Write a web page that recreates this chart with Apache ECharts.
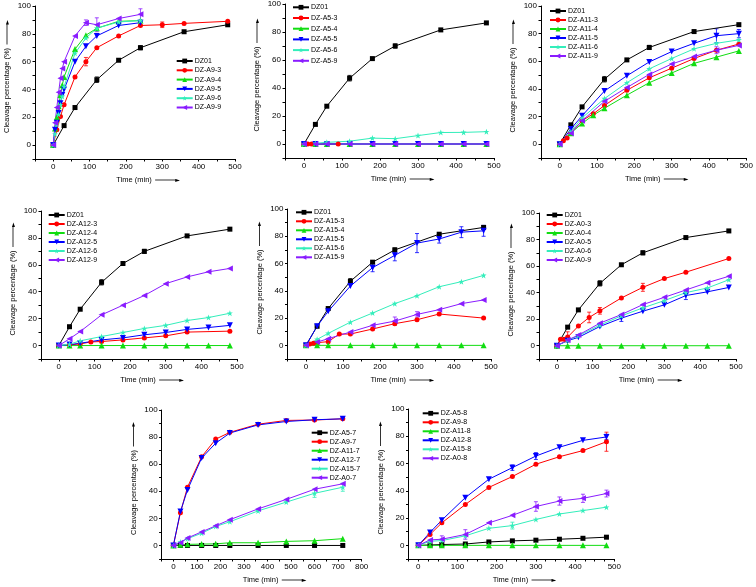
<!DOCTYPE html>
<html><head><meta charset="utf-8">
<script src="https://cdn.jsdelivr.net/npm/echarts@6/dist/echarts.min.js"></script>
<style>html,body{margin:0;padding:0;background:#fff}#c{width:756px;height:587px}</style>
</head><body><div id="c"></div>
<script>
// ---------- DATA ----------
const tDZ = [0,30,60,120,180,240,360,480];
const vDZ01 = [0,14,27,47,61,70,81.5,86.5];
const tStd = [0,30,60,120,180,240,300,360,420,480];

// Panel 1 (A9)
const tA9_3 = [0,10,20,30,60,90,120,180,240,300,360,480];
const vA9_3 = [0,11,20.5,29,49,60,70,78.5,86,86.5,87.5,89];
const tA9 = [0,5,10,15,20,25,30,60,90,120,180,240];
const vA9_4 = [0,12,20,28,36,43,49,69,79,84,89,89.5];
const vA9_5 = [0,11,16,23,30,36,40,60,71,78.5,86,88];
const vA9_6 = [0,8,15,22,29,35,42,66,77,84,88.5,89.5];
const vA9_9 = [0,16,27,38,48,55,60,78.5,88,86.5,91,94];

// Panel 2 (A5)
const tA5_3 = [0,10,20,90];
const vA5_3 = [0,0,0,0];
const vA5_4 = [0,0,0,0,0,0,0,0,0,0];
const vA5_5 = [0,0,0,0,0,0,0,0,0,0];
const vA5_6 = [0,0.5,1.2,2,4.2,3.8,6,8.2,8.3,8.8];
const vA5_9 = [0,0,0,0,0,0,0,0,0,0];

// Panel 3 (A11)
const tA11_3 = [0,10,20,30,60,90,120,180,240,300,360,420,480];
const vA11_3 = [0,2.5,4.5,8,17,22,28,39,48,55,62,68,72.5];
const tA11_4 = [0,30,60,90,120,180,240,300,360,420,480];
const vA11_4 = [0,8,15,21,26,35.5,44.5,51.5,58.5,63,67.5];
const vA11_5 = [0,11,20.5,38.5,49.5,59.5,67,73,78.5,80];
const vA11_6 = [0,9,19,33,44.5,54.5,62,69,73,75.5];
const vA11_9 = [0,8,17,31,41,50.5,58,63.5,68,71.5];

// Panel 4 (A12)
const tA12_3 = [0,30,60,90,120,180,240,300,360,480];
const vA12_3 = [0,0.5,1.2,2.7,3,4.2,5.7,7.2,10,10.7];
const vA12_4 = [0,0,0,0,0,0,0,0,0,0];
const vA12_5 = [0,0.7,1.7,4.2,5.7,8,9.7,12,13.4,15];
const vA12_6 = [0,1,3.5,6.7,9.7,12.7,15,18.6,20.8,24];
const vA12_9 = [0,5,10.4,22.8,30,37.2,46,51,54.8,57.3];

// Panel 5 (A15)
const tA15_3 = [0,10,20,30,60,90,120,180,240,300,360,480];
const vA15_3 = [0,1,1.5,2,2.7,8.3,8.3,12,15.9,18.8,23,20];
const vA15_4 = [0,0,0,0,0,0,0,0,0,0];
const vA15_5 = [0,14,25,43.5,57,66,75,78,83,84];
const vA15_6 = [0,4.4,8.8,17,23.7,30.6,36.4,43,46.7,51.3];
const vA15_9 = [0,2.4,4.9,9.8,14.7,17.8,22.7,26.2,30.6,33.3];

// Panel 6 (A0)
const tA0_3 = [0,10,20,30,60,90,120,180,240,300,360,480];
const vA0_3 = [0,4.8,4.8,6.5,14.8,21.3,26.3,36,44,50.6,55.4,65.7];
const vA0_4 = [0,0,0,0,0,0,0,0,0,0];
const vA0_5 = [0,3.8,6.3,14.5,20.8,26,30.8,37.8,40.6,43.9];
const vA0_6 = [0,4,7.5,15.5,22.5,28.5,34,40,43.5,49.7];
const vA0_9 = [0,4.3,8,17,23.5,31,36.5,42,47.5,52.3];

// Panel 7 (-7 series)
const t7 = [0,30,60,120,180,240,360,480,600,720];
const vA5_7 = [0,0,0,0,0,0,0,0,0,0];
const vA9_7 = [0,24.2,43,65.4,78.5,83.5,89.5,92.3,92.6,93.5];
const vA11_7 = [0,0.5,0.8,1,1.2,2,2,3,3.5,5];
const vA12_7 = [0,25,41,64.5,75.5,83,89,91.5,92.8,93.5];
const vA15_7 = [0,2.5,5,9,14,17.5,25.5,32,38.5,43];
const vA0_7 = [0,2,5.5,10,14.5,19,27,34,41.5,45.5];

// Panel 8 (-8 series)
const vA5_8 = [0,0.3,0.6,1,2.5,3.3,3.8,4.5,5.2,6];
const vA9_8 = [0,8,16.5,30,42.5,50.5,59.5,65,69.5,76];
const vA11_8 = [0,0,0,0,0,0,0,0,0,0];
const vA12_8 = [0,9.5,18.5,35,48.5,57,65.5,72,77,79.5];
const vA15_8 = [0,3,3.5,7,12.5,14.5,19,23,25.5,28];
const vA0_8 = [0,4,4.5,8,16.5,22,28.5,32.5,34.5,38];

// Error bars [time, half-width]
const eDZ01 = [[120,2],[240,1.5]];
const eA9_3 = [[90,3],[300,2]];
const eA9_9 = [[90,2],[120,5],[240,4]];
const eA11_5 = [[420,5],[480,3]];
const eA11_9 = [[420,2.5]];
const eA15_5 = [[180,3],[240,4],[300,7],[360,3],[420,4],[480,4]];
const eA15_9 = [[240,3],[300,2]];
const eA0_3 = [[30,4],[90,4],[120,2.5],[240,3]];
const eA0_5 = [[180,2.5],[360,3]];
const eA15_7 = [[600,3],[720,3]];
const eA9_8 = [[480,7]];
const eA12_8 = [[240,2],[300,2.5],[480,2]];
const eA0_8 = [[60,2.5],[120,3.5],[300,3.5],[360,3],[420,3],[480,2.5]];
const eA15_8 = [[240,2.5]];

// ---------- STYLE ----------
const STAR = 'path://M50,0 L62,33 L98,33 L69,54 L80,90 L50,68 L20,90 L31,54 L2,33 L38,33 Z';
const ST = {
  k: {color:'#000000', symbol:'rect', size:5, rot:0},
  r: {color:'#ff0000', symbol:'circle', size:5, rot:0},
  g: {color:'#11dd11', symbol:'triangle', size:6, rot:0},
  b: {color:'#0000ff', symbol:'triangle', size:6, rot:180},
  c: {color:'#33eebb', symbol:STAR, size:6, rot:0},
  p: {color:'#8a1cff', symbol:'triangle', size:6, rot:90}
};
const FONT = 'Liberation Sans, Arial, sans-serif';

const panels = [
  {grid:{left:30,top:6,width:205,height:153}, xmin:-50, xmax:500, xint:50,
   legend:{left:175.7, top:56.5, gap:0.3},
   s:[['DZ01',tDZ,vDZ01,'k',eDZ01],['DZ-A9-3',tA9_3,vA9_3,'r',eA9_3],['DZ-A9-4',tA9,vA9_4,'g'],
      ['DZ-A9-5',tA9,vA9_5,'b'],['DZ-A9-6',tA9,vA9_6,'c'],['DZ-A9-9',tA9,vA9_9,'p',eA9_9]]},
  {grid:{left:285,top:4,width:209,height:154}, xmin:-50, xmax:500, xint:50,
   legend:{left:292, top:2.8, gap:1.7},
   s:[['DZ01',tDZ,vDZ01,'k',eDZ01],['DZ-A5-3',tA5_3,vA5_3,'r'],['DZ-A5-4',tStd,vA5_4,'g'],
      ['DZ-A5-5',tStd,vA5_5,'b'],['DZ-A5-6',tStd,vA5_6,'c'],['DZ-A5-9',tStd,vA5_9,'p']]},
  {grid:{left:541,top:6,width:206,height:152}, xmin:-50, xmax:500, xint:50,
   legend:{left:549, top:6.5, gap:0},
   s:[['DZ01',tDZ,vDZ01,'k',eDZ01],['DZ-A11-3',tA11_3,vA11_3,'r'],['DZ-A11-4',tA11_4,vA11_4,'g'],
      ['DZ-A11-5',tStd,vA11_5,'b',eA11_5],['DZ-A11-6',tStd,vA11_6,'c'],['DZ-A11-9',tStd,vA11_9,'p',eA11_9]]},
  {grid:{left:41,top:211,width:196,height:148}, xmin:-50, xmax:500, xint:50,
   legend:{left:47.7, top:210.5, gap:0},
   s:[['DZ01',tDZ,vDZ01,'k',eDZ01],['DZ-A12-3',tA12_3,vA12_3,'r'],['DZ-A12-4',tStd,vA12_4,'g'],
      ['DZ-A12-5',tStd,vA12_5,'b'],['DZ-A12-6',tStd,vA12_6,'c'],['DZ-A12-9',tStd,vA12_9,'p']]},
  {grid:{left:287.5,top:209,width:203.5,height:150}, xmin:-50, xmax:500, xint:50,
   legend:{left:295, top:207.8, gap:0},
   s:[['DZ01',tDZ,vDZ01,'k',eDZ01],['DZ-A15-3',tA15_3,vA15_3,'r'],['DZ-A15-4',tStd,vA15_4,'g'],
      ['DZ-A15-5',tStd,vA15_5,'b',eA15_5],['DZ-A15-6',tStd,vA15_6,'c'],['DZ-A15-9',tStd,vA15_9,'p',eA15_9]]},
  {grid:{left:539,top:213,width:197,height:146}, xmin:-50, xmax:500, xint:50,
   legend:{left:545.7, top:210.5, gap:0},
   s:[['DZ01',tDZ,vDZ01,'k',eDZ01],['DZ-A0-3',tA0_3,vA0_3,'r',eA0_3],['DZ-A0-4',tStd,vA0_4,'g'],
      ['DZ-A0-5',tStd,vA0_5,'b',eA0_5],['DZ-A0-6',tStd,vA0_6,'c'],['DZ-A0-9',tStd,vA0_9,'p']]},
  {grid:{left:161.6,top:410,width:200,height:151.5}, xmin:-50, xmax:800, xint:50,
   legend:{left:310.7, top:428.2, gap:0},
   s:[['DZ-A5-7',t7,vA5_7,'k'],['DZ-A9-7',t7,vA9_7,'r'],['DZ-A11-7',t7,vA11_7,'g'],
      ['DZ-A12-7',t7,vA12_7,'b'],['DZ-A15-7',t7,vA15_7,'c',eA15_7],['DZ-A0-7',t7,vA0_7,'p']]},
  {grid:{left:408.5,top:409,width:205.8,height:151}, xmin:-25, xmax:500, xint:25,
   legend:{left:421.7, top:408.8, gap:0},
   s:[['DZ-A5-8',tStd,vA5_8,'k'],['DZ-A9-8',tStd,vA9_8,'r',eA9_8],['DZ-A11-8',tStd,vA11_8,'g'],
      ['DZ-A12-8',tStd,vA12_8,'b',eA12_8],['DZ-A15-8',tStd,vA15_8,'c',eA15_8],['DZ-A0-8',tStd,vA0_8,'p',eA0_8]]}
];

const arrowRich = {
  t:{fontSize:7.5, fontFamily:FONT, color:'#000'},
  l:{width:21, height:0.8, backgroundColor:'#000', lineHeight:9},
  h:{fontSize:6, color:'#000', fontFamily:'DejaVu Sans', padding:[0,0,0,-1]}
};

const grids=[], xAxes=[], yAxes=[], legends=[], series=[];
panels.forEach((P,i)=>{
  grids.push(Object.assign({containLabel:false}, P.grid));
  xAxes.push({
    gridIndex:i, type:'value', min:P.xmin, max:P.xmax, interval:P.xint,
    axisLine:{show:true,onZero:false,lineStyle:{color:'#000',width:1}},
    axisTick:{show:true,inside:false,length:2.5,lineStyle:{color:'#000',width:1}},
    axisLabel:{fontSize:8,color:'#000',fontFamily:FONT,margin:4,
      formatter:v=>(v>=0 && v%100===0)?String(v):''},
    splitLine:{show:false},
    name:'{t|Time (min)} {l| }{h|►}', nameLocation:'middle', nameGap:15,
    nameTextStyle:{rich:arrowRich, padding:[0,0,0,26]}
  });
  yAxes.push({
    gridIndex:i, type:'value', min:-10, max:100, interval:10,
    axisLine:{show:true,onZero:false,lineStyle:{color:'#000',width:1}},
    axisTick:{show:true,inside:false,length:2.5,lineStyle:{color:'#000',width:1}},
    axisLabel:{fontSize:8,color:'#000',fontFamily:FONT,margin:4,
      formatter:v=>(v>=0 && v%20===0)?String(v):''},
    splitLine:{show:false},
    name:'{t|Cleavage percentage (%)} {l| }{h|►}', nameLocation:'middle', nameGap:22,
    nameTextStyle:{rich:arrowRich, padding:[0,0,0,12]}
  });
  legends.push({
    orient:'vertical', left:P.legend.left, top:P.legend.top, itemGap:P.legend.gap,
    itemWidth:16, itemHeight:6, padding:0, selectedMode:false,
    textStyle:{fontSize:7, fontFamily:FONT, color:'#000', lineHeight:9, padding:[0,0,0,-3]},
    data:P.s.map(s=>s[0])
  });
  P.s.forEach(([name,t,v,sk,err])=>{
    const st = ST[sk];
    series.push({
      type:'line', name, xAxisIndex:i, yAxisIndex:i,
      data:t.map((x,j)=>[x,v[j]]),
      symbol:st.symbol, symbolSize:st.size, symbolRotate:st.rot, showAllSymbol:true,
      lineStyle:{color:st.color,width:1}, itemStyle:{color:st.color},
      emphasis:{disabled:true}, animation:false, z:3
    });
    if(err){
      const d = err.map(([x,e])=>{const y=v[t.indexOf(x)]; return [x,y-e,y+e];});
      series.push({
        type:'custom', name:name+'_err', xAxisIndex:i, yAxisIndex:i, data:d, z:2,
        itemStyle:{color:st.color}, animation:false, silent:true,
        renderItem:(params,api)=>{
          const p1=api.coord([api.value(0),api.value(1)]);
          const p2=api.coord([api.value(0),api.value(2)]);
          const c=api.visual('color'); const w=2;
          const ls={stroke:c,lineWidth:0.8};
          return {type:'group',children:[
            {type:'line',shape:{x1:p1[0],y1:p1[1],x2:p2[0],y2:p2[1]},style:ls},
            {type:'line',shape:{x1:p1[0]-w,y1:p1[1],x2:p1[0]+w,y2:p1[1]},style:ls},
            {type:'line',shape:{x1:p2[0]-w,y1:p2[1],x2:p2[0]+w,y2:p2[1]},style:ls}
          ]};
        }
      });
    }
  });
});

const chart = echarts.init(document.getElementById('c'), null, {renderer:'canvas'});
chart.setOption({
  backgroundColor:'#ffffff', animation:false,
  textStyle:{fontFamily:FONT},
  grid:grids, xAxis:xAxes, yAxis:yAxes, legend:legends, series
});
</script></body></html>
